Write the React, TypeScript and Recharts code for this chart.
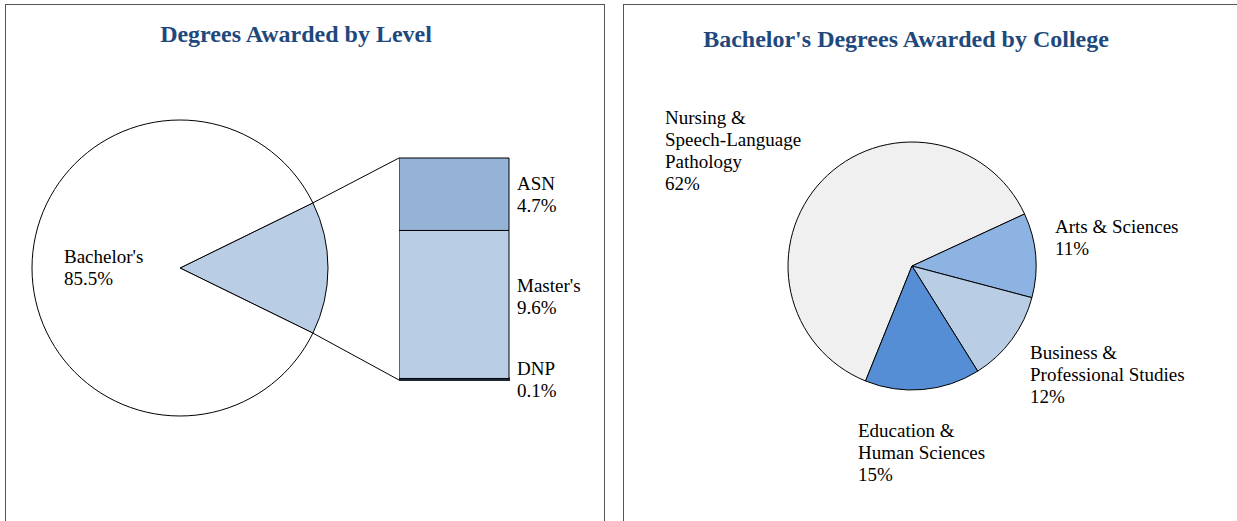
import { Bar, BarChart, Cell, LabelList, Pie, PieChart, XAxis, YAxis } from "recharts";

const FONT = '"Liberation Serif", "Times New Roman", Times, serif';
const TITLE_COLOR = "#1F497D";
const LABEL_SIZE = 19;
const LINE_H = 22;

// left panel: share by level, with the non-bachelor slice broken out as a bar
const LEVEL_NAMES = ["Other levels", "Bachelor's"];
const LEVEL_VALUES = [14.5, 85.5];
const LEVEL_COLORS = ["#B9CDE5", "#FFFFFF"];

const DETAIL_NAMES = ["ASN", "Master's", "DNP"];
const DETAIL_VALUES = [4.7, 9.6, 0.1];
const DETAIL_COLORS = ["#95B3D7", "#B9CDE5", "#1B2838"];

// right panel: bachelor's by college
const COLLEGE_NAMES = [
  "Nursing &\nSpeech-Language\nPathology",
  "Arts & Sciences",
  "Business &\nProfessional Studies",
  "Education &\nHuman Sciences",
];
const COLLEGE_VALUES = [62, 11, 12, 15];
const COLLEGE_COLORS = ["#F0F0F0", "#8DB3E2", "#B9CDE5", "#558ED5"];

// layout
const LEFT_CX = 180;
const LEFT_CY = 268;
const LEFT_R = 148;
const BAR_X = 399;
const BAR_TOP = 158;
const BAR_BOTTOM = 380;
const BAR_W = 110;
// vertical nudge of the bar labels, px
const DETAIL_LABEL_SHIFT = [0, -8, 0];

const RIGHT_LEFT = 620;
const RIGHT_CX = 292;
const RIGHT_CY = 266;
const RIGHT_R = 124;
// label anchor (first line centre) relative to pie centre
const COLLEGE_LABEL_POS: [number, number][] = [
  [-247, -149],
  [143, -40],
  [118, 86],
  [-54, 164],
];

const levelData = LEVEL_NAMES.map((name, i) => ({ name, value: LEVEL_VALUES[i] }));
const collegeData = COLLEGE_NAMES.map((name, i) => ({ name, value: COLLEGE_VALUES[i] }));
const detailRow: Record<string, number | string> = { name: "Other" };
DETAIL_NAMES.forEach((n, i) => (detailRow[n] = DETAIL_VALUES[i]));
const detailTotal = DETAIL_VALUES.reduce((s, v) => s + v, 0);

function Lines({ x, y, lines }: { x: number; y: number; lines: string[] }) {
  return (
    <text x={x} y={y} fontFamily={FONT} fontSize={LABEL_SIZE} fill="#000" textAnchor="start">
      {lines.map((l, i) => (
        <tspan key={i} x={x} y={y + i * LINE_H + 6.5}>
          {l}
        </tspan>
      ))}
    </text>
  );
}

const fmtPct = (v: number) => `${v}%`;

const titleStyle: React.CSSProperties = {
  position: "absolute",
  width: 600,
  textAlign: "center",
  color: TITLE_COLOR,
  fontWeight: "bold",
  fontSize: 24,
  whiteSpace: "nowrap",
};

export default function App() {
  const sliceHalf = (LEVEL_VALUES[0] / 100) * 180;
  const startAngle = sliceHalf;
  const rad = (sliceHalf * Math.PI) / 180;
  const edgeX = LEFT_CX + LEFT_R * Math.cos(rad);
  const edgeDy = LEFT_R * Math.sin(rad);

  return (
    <div style={{ position: "absolute", left: 0, top: 0, width: 1237, height: 521, overflow: "hidden", background: "#fff", fontFamily: FONT }}>
      {/* panel frames */}
      <div style={{ position: "absolute", left: 5, top: 4, width: 600, height: 540, border: "1px solid #555", boxSizing: "border-box" }} />
      <div style={{ position: "absolute", left: 623, top: 4, width: 640, height: 540, border: "1px solid #555", boxSizing: "border-box" }} />

      <div style={{ ...titleStyle, left: -4, top: 21 }}>Degrees Awarded by Level</div>
      <div style={{ ...titleStyle, left: 606, top: 26 }}>Bachelor's Degrees Awarded by College</div>

      <div style={{ position: "absolute", left: 0, top: 0 }}>
        <PieChart width={610} height={521} margin={{ top: 0, right: 0, bottom: 0, left: 0 }}>
          <Pie
            data={levelData}
            dataKey="value"
            nameKey="name"
            cx={LEFT_CX}
            cy={LEFT_CY}
            outerRadius={LEFT_R}
            startAngle={startAngle}
            endAngle={startAngle - 360}
            stroke="#000"
            strokeWidth={1}
            isAnimationActive={false}
            labelLine={false}
            label={(p: any) =>
              p.index === 1 ? (
                <Lines x={LEFT_CX - 116} y={LEFT_CY - 12} lines={[String(p.name), fmtPct(p.value)]} />
              ) : null
            }
          >
            {levelData.map((d, i) => (
              <Cell key={d.name} fill={LEVEL_COLORS[i]} />
            ))}
          </Pie>
        </PieChart>
      </div>

      <svg style={{ position: "absolute", left: 0, top: 0 }} width={610} height={521}>
        <line x1={edgeX} y1={LEFT_CY - edgeDy} x2={BAR_X} y2={BAR_TOP} stroke="#000" strokeWidth={1} />
        <line x1={edgeX} y1={LEFT_CY + edgeDy} x2={BAR_X} y2={BAR_BOTTOM} stroke="#000" strokeWidth={1} />
      </svg>

      <div style={{ position: "absolute", left: BAR_X, top: BAR_TOP - 8 }}>
        <BarChart
          width={BAR_W + 100}
          height={BAR_BOTTOM - BAR_TOP + 48}
          data={[detailRow]}
          margin={{ top: 8, right: 100, bottom: 40, left: 0 }}
          barCategoryGap={0}
        >
          <XAxis dataKey="name" hide />
          <YAxis hide domain={[0, detailTotal]} />
          {[...DETAIL_NAMES].reverse().map((n) => {
            const i = DETAIL_NAMES.indexOf(n);
            return (
              <Bar
                key={n}
                dataKey={n}
                stackId="a"
                fill={DETAIL_COLORS[i]}
                stroke={i === 2 ? DETAIL_COLORS[i] : "#000"}
                strokeWidth={i === 2 ? 2 : 1}
                isAnimationActive={false}
              >
                <LabelList
                  dataKey={n}
                  content={(p: any) => {
                    const cy = Number(p.y) + Number(p.height) / 2 + DETAIL_LABEL_SHIFT[i];
                    return <Lines x={Number(p.x) + Number(p.width) + 8} y={cy - 11} lines={[n, fmtPct(Number(p.value))]} />;
                  }}
                />
              </Bar>
            );
          })}
        </BarChart>
      </div>

      <div style={{ position: "absolute", left: RIGHT_LEFT, top: 0 }}>
        <PieChart width={617} height={521} margin={{ top: 0, right: 0, bottom: 0, left: 0 }}>
          <Pie
            data={collegeData}
            dataKey="value"
            nameKey="name"
            cx={RIGHT_CX}
            cy={RIGHT_CY}
            outerRadius={RIGHT_R}
            startAngle={248}
            endAngle={-112}
            stroke="#000"
            strokeWidth={1}
            isAnimationActive={false}
            labelLine={false}
            label={(p: any) => {
              const [dx, dy] = COLLEGE_LABEL_POS[p.index];
              return (
                <Lines
                  x={RIGHT_CX + dx}
                  y={RIGHT_CY + dy}
                  lines={[...String(p.name).split("\n"), fmtPct(p.value)]}
                />
              );
            }}
          >
            {collegeData.map((d, i) => (
              <Cell key={d.name} fill={COLLEGE_COLORS[i]} />
            ))}
          </Pie>
        </PieChart>
      </div>
    </div>
  );
}
